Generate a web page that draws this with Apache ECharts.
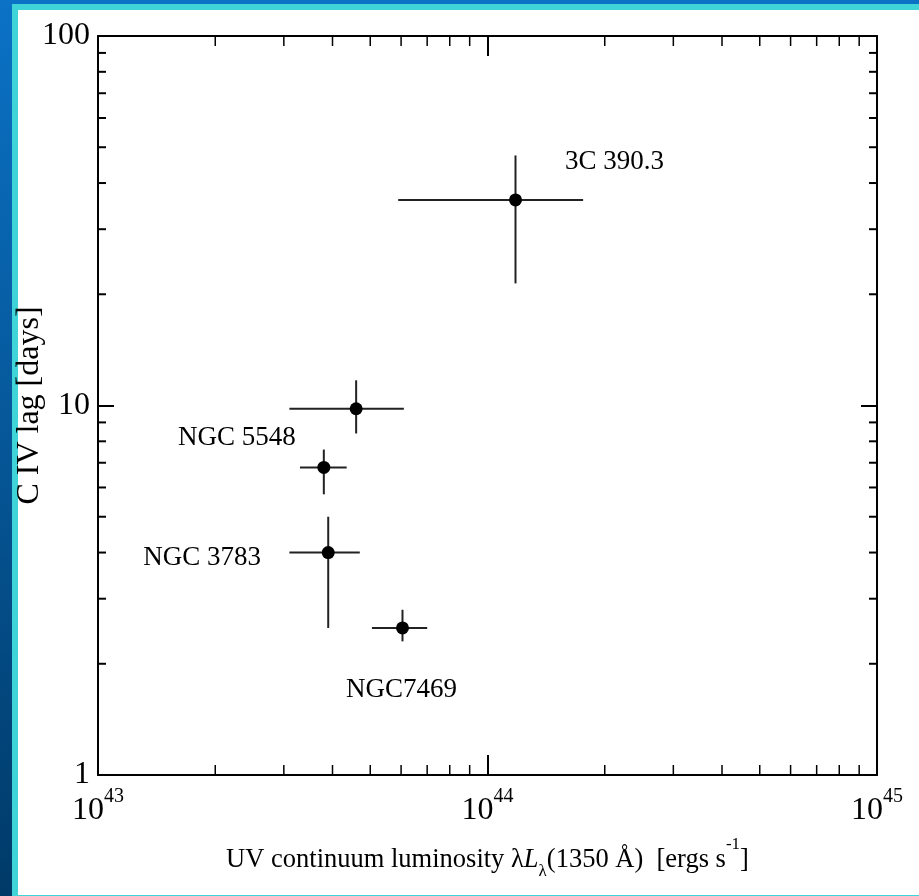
<!DOCTYPE html>
<html>
<head>
<meta charset="utf-8">
<script src="https://cdn.jsdelivr.net/npm/echarts@6/dist/echarts.min.js"></script>
<style>
  html, body { margin: 0; padding: 0; }
  #frame { position: absolute; left: 0; top: 0; width: 919px; height: 896px; background: linear-gradient(#0b72c6, #003a68); overflow: hidden; }
  #cyan { position: absolute; left: 12px; top: 4px; right: 0; bottom: 0; background: #3fd4d8; }
  #white { position: absolute; left: 18px; top: 10px; width: 901px; height: 885px; background: #ffffff; }
  #chart { position: absolute; left: 0; top: 0; width: 919px; height: 896px; }
</style>
</head>
<body>
<div id="frame"><div id="cyan"></div><div id="white"></div></div>
<div id="chart"></div>
<script>
// ---- data ----
const objectNames = ['3C 390.3', '', 'NGC 5548', 'NGC 3783', 'NGC7469'];
const luminosity  = [1.18e44, 4.6e43, 3.8e43, 3.9e43, 6.05e43];
const lumLow      = [5.9e43, 3.1e43, 3.3e43, 3.1e43, 5.05e43];
const lumHigh     = [1.76e44, 6.1e43, 4.35e43, 4.7e43, 7.0e43];
const lag         = [36, 9.8, 6.8, 4.0, 2.5];
const lagLow      = [21.4, 8.4, 5.75, 2.5, 2.3];
const lagHigh     = [47.5, 11.7, 7.6, 5.0, 2.8];
const xMinorTicks = [2e43, 3e43, 4e43, 5e43, 6e43, 7e43, 8e43, 9e43, 2e44, 3e44, 4e44, 5e44, 6e44, 7e44, 8e44, 9e44];
const yMinorTicks = [2, 3, 4, 5, 6, 7, 8, 9, 20, 30, 40, 50, 60, 70, 80, 90];
const xRange = [1e43, 1e45];
const yRange = [1, 100];

// ---- layout / style ----
const labelOffsets = [[99, -38], [0, 0], [-87, -29], [-126, 5], [-1, 62]];
const FONT = 'Liberation Serif';

const chart = echarts.init(document.getElementById('chart'), null, { renderer: 'canvas' });

const pointData = luminosity.map((x, i) => ({
  value: [x, lag[i]],
  label: {
    show: objectNames[i] !== '',
    formatter: objectNames[i],
    position: 'inside',
    offset: labelOffsets[i],
    color: '#000',
    opacity: 1,
    fontFamily: FONT,
    fontSize: 27
  }
}));

const errData = luminosity.map((x, i) => [x, lag[i], lumLow[i], lumHigh[i], lagLow[i], lagHigh[i]]);

const axisLineStyle = { show: true, lineStyle: { color: '#000', width: 2 } };

const option = {
  animation: false,
  backgroundColor: 'transparent',
  grid: { left: 98, right: 42, top: 36, bottom: 121, containLabel: false, outerBoundsMode: 'none' },
  xAxis: [
    {
      type: 'log', logBase: 10, min: xRange[0], max: xRange[1], interval: 1,
      position: 'bottom',
      axisLine: axisLineStyle,
      axisTick: { show: true, inside: true, length: 20, lineStyle: { color: '#000', width: 2 } },
      splitLine: { show: false },
      minorTick: { show: false },
      axisLabel: {
        margin: 12,
        formatter: v => '{b|10}{s|' + Math.round(Math.log10(v)) + '}',
        rich: {
          b: { fontFamily: FONT, fontSize: 32, color: '#000', lineHeight: 40, verticalAlign: 'bottom' },
          s: { fontFamily: FONT, fontSize: 20, color: '#000', lineHeight: 40, verticalAlign: 'top' }
        }
      },
      name: '{n|UV continuum luminosity }{g|λ}{i|L}{sub|λ}{n|(1350 Å)  [ergs s}{sup|-1}{n|]}',
      nameLocation: 'middle',
      nameGap: 67,
      nameMoveOverlap: false,
      nameTextStyle: {
        rich: {
          n: { fontFamily: FONT, fontSize: 26.5, color: '#000', lineHeight: 36, verticalAlign: 'middle' },
          g: { fontFamily: FONT, fontSize: 26.5, color: '#000', lineHeight: 36, verticalAlign: 'middle' },
          i: { fontFamily: FONT, fontSize: 26.5, fontStyle: 'italic', color: '#000', lineHeight: 36, verticalAlign: 'middle' },
          sub: { fontFamily: FONT, fontSize: 17, color: '#000', lineHeight: 36, verticalAlign: 'bottom', padding: [0, 0, -2, 0] },
          sup: { fontFamily: FONT, fontSize: 17, color: '#000', lineHeight: 36, verticalAlign: 'top', padding: [-6, 0, 0, 0] }
        }
      }
    },
    {
      type: 'log', logBase: 10, min: xRange[0], max: xRange[1], interval: 1,
      position: 'top',
      axisLine: axisLineStyle,
      axisTick: { show: true, inside: true, length: 20, lineStyle: { color: '#000', width: 2 } },
      axisLabel: { show: false },
      splitLine: { show: false }
    }
  ],
  yAxis: [
    {
      type: 'log', logBase: 10, min: yRange[0], max: yRange[1], interval: 1,
      position: 'left',
      axisLine: axisLineStyle,
      axisTick: { show: true, inside: true, length: 16, lineStyle: { color: '#000', width: 2 } },
      splitLine: { show: false },
      axisLabel: { margin: 8, fontFamily: FONT, fontSize: 32, color: '#000' },
      name: 'C IV lag [days]',
      nameLocation: 'middle',
      nameRotate: 90,
      nameGap: 52,
      nameMoveOverlap: false,
      nameTextStyle: { fontFamily: FONT, fontSize: 32, color: '#000' }
    },
    {
      type: 'log', logBase: 10, min: yRange[0], max: yRange[1], interval: 1,
      position: 'right',
      axisLine: axisLineStyle,
      axisTick: { show: true, inside: true, length: 16, lineStyle: { color: '#000', width: 2 } },
      axisLabel: { show: false },
      splitLine: { show: false }
    }
  ],
  series: [
    {
      type: 'custom', name: 'minorX', xAxisIndex: 0, yAxisIndex: 0, clip: false, silent: true,
      data: xMinorTicks.map(v => [v]),
      renderItem: (params, api) => {
        const v = api.value(0);
        const b = api.coord([v, yRange[0]]);
        const t = api.coord([v, yRange[1]]);
        const st = { stroke: '#000', lineWidth: 1.5 };
        return { type: 'group', children: [
          { type: 'line', shape: { x1: b[0], y1: b[1], x2: b[0], y2: b[1] - 10 }, style: st },
          { type: 'line', shape: { x1: t[0], y1: t[1], x2: t[0], y2: t[1] + 10 }, style: st }
        ] };
      }
    },
    {
      type: 'custom', name: 'minorY', xAxisIndex: 0, yAxisIndex: 0, clip: false, silent: true,
      data: yMinorTicks.map(v => [v]),
      renderItem: (params, api) => {
        const v = api.value(0);
        const l = api.coord([xRange[0], v]);
        const r = api.coord([xRange[1], v]);
        const st = { stroke: '#000', lineWidth: 2 };
        return { type: 'group', children: [
          { type: 'line', shape: { x1: l[0], y1: l[1], x2: l[0] + 8, y2: l[1] }, style: st },
          { type: 'line', shape: { x1: r[0], y1: r[1], x2: r[0] - 8, y2: r[1] }, style: st }
        ] };
      }
    },
    {
      type: 'custom', name: 'errors', xAxisIndex: 0, yAxisIndex: 0, clip: false, silent: true,
      data: errData,
      renderItem: (params, api) => {
        const x = api.value(0), y = api.value(1);
        const xl = api.coord([api.value(2), y]);
        const xh = api.coord([api.value(3), y]);
        const yl = api.coord([x, api.value(4)]);
        const yh = api.coord([x, api.value(5)]);
        const st = { stroke: '#222', lineWidth: 2 };
        return { type: 'group', children: [
          { type: 'line', shape: { x1: xl[0], y1: xl[1], x2: xh[0], y2: xh[1] }, style: st },
          { type: 'line', shape: { x1: yl[0], y1: yl[1], x2: yh[0], y2: yh[1] }, style: st }
        ] };
      }
    },
    {
      type: 'scatter', name: 'C IV lag', xAxisIndex: 0, yAxisIndex: 0,
      symbol: 'circle', symbolSize: 13,
      itemStyle: { color: '#000', opacity: 1 },
      data: pointData,
      z: 5
    }
  ]
};

chart.setOption(option);
</script>
</body>
</html>
